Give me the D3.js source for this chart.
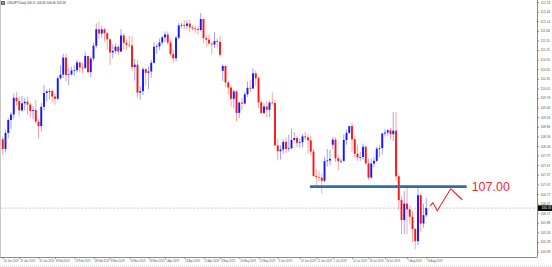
<!DOCTYPE html>
<html>
<head>
<meta charset="utf-8">
<script src="https://cdn.jsdelivr.net/npm/d3@7"></script>
<style>
body { margin: 0; background: #fff; }
svg { display: block; font-family: "Liberation Sans", Arial, sans-serif; }
.axis text { fill: #555; }
.axis path, .axis line { stroke: #8c8c8c; }
</style>
</head>
<body>
<svg width="552" height="267"></svg>
<script>
// USDJPY daily bars, 14 Jan 2019 - 16 Aug 2019
var dates = [
  "14 Jan 2019","15 Jan 2019","16 Jan 2019","17 Jan 2019","18 Jan 2019","21 Jan 2019","22 Jan 2019","23 Jan 2019","24 Jan 2019","25 Jan 2019","28 Jan 2019","29 Jan 2019","30 Jan 2019","31 Jan 2019",
  "1 Feb 2019","4 Feb 2019","5 Feb 2019","6 Feb 2019","7 Feb 2019","8 Feb 2019","11 Feb 2019","12 Feb 2019","13 Feb 2019","14 Feb 2019","15 Feb 2019","18 Feb 2019","19 Feb 2019","20 Feb 2019","21 Feb 2019","22 Feb 2019","25 Feb 2019","26 Feb 2019","27 Feb 2019","28 Feb 2019",
  "1 Mar 2019","4 Mar 2019","5 Mar 2019","6 Mar 2019","7 Mar 2019","8 Mar 2019","11 Mar 2019","12 Mar 2019","13 Mar 2019","14 Mar 2019","15 Mar 2019","18 Mar 2019","19 Mar 2019","20 Mar 2019","21 Mar 2019","22 Mar 2019","25 Mar 2019","26 Mar 2019","27 Mar 2019","28 Mar 2019","29 Mar 2019",
  "1 Apr 2019","2 Apr 2019","3 Apr 2019","4 Apr 2019","5 Apr 2019","8 Apr 2019","9 Apr 2019","10 Apr 2019","11 Apr 2019","12 Apr 2019","15 Apr 2019","16 Apr 2019","17 Apr 2019","18 Apr 2019","19 Apr 2019","22 Apr 2019","23 Apr 2019","24 Apr 2019","25 Apr 2019","26 Apr 2019","29 Apr 2019","30 Apr 2019",
  "1 May 2019","2 May 2019","3 May 2019","6 May 2019","7 May 2019","8 May 2019","9 May 2019","10 May 2019","13 May 2019","14 May 2019","15 May 2019","16 May 2019","17 May 2019","20 May 2019","21 May 2019","22 May 2019","23 May 2019","24 May 2019","27 May 2019","28 May 2019","29 May 2019","30 May 2019","31 May 2019",
  "3 Jun 2019","4 Jun 2019","5 Jun 2019","6 Jun 2019","7 Jun 2019","10 Jun 2019","11 Jun 2019","12 Jun 2019","13 Jun 2019","14 Jun 2019","17 Jun 2019","18 Jun 2019","19 Jun 2019","20 Jun 2019","21 Jun 2019","24 Jun 2019","25 Jun 2019","26 Jun 2019","27 Jun 2019","28 Jun 2019",
  "1 Jul 2019","2 Jul 2019","3 Jul 2019","4 Jul 2019","5 Jul 2019","8 Jul 2019","9 Jul 2019","10 Jul 2019","11 Jul 2019","12 Jul 2019","15 Jul 2019","16 Jul 2019","17 Jul 2019","18 Jul 2019","19 Jul 2019","22 Jul 2019","23 Jul 2019","24 Jul 2019","25 Jul 2019","26 Jul 2019","29 Jul 2019","30 Jul 2019","31 Jul 2019",
  "1 Aug 2019","2 Aug 2019","5 Aug 2019","6 Aug 2019","7 Aug 2019","8 Aug 2019","9 Aug 2019","12 Aug 2019","13 Aug 2019","14 Aug 2019","15 Aug 2019","16 Aug 2019"
];

var opens = [
  108.47,108.17,108.67,109.07,109.24,109.76,109.66,109.37,109.59,109.64,109.55,109.35,109.38,109.02,
  108.88,109.48,109.91,109.96,109.97,109.80,109.73,110.37,110.48,111.01,110.47,110.49,110.61,110.62,110.86,110.70,110.69,111.06,110.56,110.98,
  111.38,111.89,111.76,111.89,111.77,111.58,111.17,111.22,111.35,111.20,111.70,111.47,111.41,111.39,110.72,110.79,109.92,109.97,110.65,110.54,110.58,
  110.85,111.35,111.36,111.48,111.64,111.73,111.48,111.12,110.99,111.63,112.01,112.03,112.00,112.07,111.95,111.92,111.90,111.87,112.21,111.62,111.57,111.45,
  111.42,111.53,111.50,110.60,110.75,110.24,110.08,109.73,109.96,109.29,109.61,109.58,109.87,110.07,110.05,110.52,110.37,109.62,109.29,109.49,109.39,109.61,109.60,
  108.28,108.10,108.15,108.39,108.17,108.19,108.45,108.51,108.36,108.38,108.56,108.53,108.44,108.09,107.33,107.30,107.28,107.18,107.79,107.81,
  108.30,108.46,107.88,107.79,107.80,108.45,108.67,108.88,108.47,108.02,107.91,107.92,108.24,107.72,107.28,107.72,107.80,108.18,108.20,108.65,108.68,108.75,108.63,
  108.74,107.32,106.58,105.96,106.47,106.29,106.06,105.68,105.30,106.73,105.85,106.11
];

var highs = [
  108.55,108.77,109.13,109.31,109.89,109.93,109.79,109.82,109.76,109.79,109.60,109.51,109.70,109.10,
  109.59,110.16,110.01,110.05,110.04,109.89,110.44,110.77,111.13,111.13,110.70,110.73,110.79,110.94,110.89,110.86,111.20,111.07,111.04,111.47,
  112.08,112.13,112.00,111.93,111.80,111.60,111.42,111.45,111.42,111.90,111.77,111.57,111.69,111.68,110.97,110.94,110.12,110.72,110.68,110.73,110.94,
  111.49,111.44,111.60,111.70,111.83,111.82,111.56,111.26,111.70,112.08,112.09,112.17,112.17,112.17,112.01,112.00,112.00,112.40,112.22,111.71,111.72,111.51,
  111.80,111.60,111.69,110.80,110.77,110.28,110.13,110.02,110.00,109.64,109.75,109.95,110.27,110.32,110.68,110.61,110.43,109.68,109.60,109.66,109.67,109.93,109.69,
  108.48,108.28,108.47,108.53,108.62,108.80,108.69,108.57,108.48,108.63,108.70,108.62,108.58,108.17,107.55,107.49,107.40,107.92,108.17,108.14,
  108.54,108.53,107.99,107.87,108.62,108.77,108.88,108.99,108.56,108.30,108.09,108.34,108.27,107.88,107.88,107.93,108.24,108.29,108.68,108.79,108.79,108.82,109.32,
  109.32,107.40,106.70,106.86,106.96,106.42,106.24,105.73,106.97,106.79,106.47,106.65
];

var lows = [
  107.99,108.06,108.50,108.80,109.11,109.52,109.19,109.31,109.37,109.23,109.14,109.09,108.95,108.50,
  108.72,109.38,109.65,109.71,109.63,109.54,109.69,110.33,110.38,110.26,110.16,110.45,110.44,110.55,110.55,110.52,110.65,110.51,110.40,110.91,
  111.30,111.60,111.63,111.52,111.25,110.78,110.99,111.14,111.09,111.19,111.25,111.25,111.33,110.60,110.30,109.75,109.70,109.85,110.14,110.03,110.39,
  110.82,111.13,111.24,111.41,111.49,111.40,111.05,110.84,110.90,111.58,111.92,111.88,111.90,111.79,111.85,111.78,111.73,111.82,111.45,111.35,111.41,111.11,
  111.30,111.33,111.04,110.28,110.09,109.86,109.48,109.45,109.02,109.13,109.38,109.55,109.79,109.93,110.04,110.13,109.44,109.26,109.25,109.16,109.15,109.53,108.27,
  107.81,107.84,108.02,108.04,108.09,108.17,108.40,108.23,108.21,108.23,108.44,108.03,107.97,107.30,107.04,107.17,106.78,107.14,107.62,107.66,
  108.17,107.76,107.51,107.71,107.76,108.30,108.65,108.06,107.89,107.80,107.80,107.83,107.67,107.21,107.25,107.60,107.76,107.92,107.99,108.56,108.58,108.48,108.42,
  107.18,106.28,105.52,105.52,105.50,105.84,105.27,105.05,105.18,105.59,105.72,106.06
];

var closes = [
  108.17,108.67,109.07,109.24,109.76,109.66,109.37,109.59,109.64,109.55,109.35,109.38,109.02,108.88,
  109.48,109.91,109.96,109.97,109.80,109.73,110.37,110.48,111.01,110.47,110.49,110.61,110.62,110.86,110.70,110.69,111.06,110.56,110.98,111.38,
  111.89,111.76,111.89,111.77,111.58,111.17,111.22,111.35,111.20,111.70,111.47,111.41,111.39,110.72,110.79,109.92,109.97,110.65,110.54,110.58,110.85,
  111.35,111.36,111.48,111.64,111.73,111.48,111.12,110.99,111.63,112.01,112.03,112.00,112.07,111.95,111.92,111.90,111.87,112.21,111.62,111.57,111.45,111.42,
  111.53,111.50,111.10,110.75,110.24,110.08,109.73,109.96,109.29,109.61,109.58,109.87,110.07,110.05,110.52,110.37,109.62,109.29,109.49,109.39,109.61,109.60,108.28,
  108.10,108.15,108.39,108.17,108.19,108.45,108.51,108.36,108.38,108.56,108.53,108.44,108.09,107.33,107.30,107.28,107.18,107.79,107.81,107.86,
  108.46,107.88,107.79,107.80,108.45,108.67,108.88,108.47,108.02,107.91,107.92,108.24,107.72,107.28,107.72,107.80,108.18,108.20,108.65,108.68,108.75,108.63,108.74,
  107.32,106.58,105.96,106.47,106.29,106.06,105.68,105.30,106.73,105.85,106.11,106.33
];

// labels along the time axis
var dateTicks = [
  "14 Jan 2019","22 Jan 2019","31 Jan 2019","8 Feb 2019","19 Feb 2019","28 Feb 2019","8 Mar 2019","19 Mar 2019",
  "28 Mar 2019","5 Apr 2019","16 Apr 2019","25 Apr 2019","3 May 2019","14 May 2019","23 May 2019","3 Jun 2019",
  "13 Jun 2019","21 Jun 2019","1 Jul 2019","10 Jul 2019","18 Jul 2019","26 Jul 2019","7 Aug 2019","16 Aug 2019"
];

// price scale labels
var priceTicks = [112.74,112.44,112.14,111.84,111.55,111.25,110.95,110.65,110.35,110.05,109.76,109.46,109.16,
  108.86,108.56,108.26,107.97,107.67,107.37,107.07,106.77,106.47,106.17,105.88,105.58,105.28,104.98];

// drawn annotations: support level and projected path (bar index, price)
var levelPrice = 107.00;
var levelBars = [111.7, 168.7];
var projBars = [155.4, 156.4, 158.0, 162.9, 167.1];
var projPrices = [106.39, 106.50, 106.25, 106.93, 106.59];

var svg = d3.select("svg"),
    plotRight = 537,
    plotBottom = 257;

var x = d3.scaleLinear().domain([0, dates.length - 1]).range([2.75, 426.25]),
    y = d3.scaleLinear().domain([104.81, 112.74]).range([plotBottom, 2]);

var upColor = "#1414ff", downColor = "#ff1414";

// frame
svg.append("line")
    .attr("x1", 0.5).attr("x2", 0.5).attr("y1", 0).attr("y2", plotBottom)
    .attr("stroke", "#c8c8c8");
svg.append("line")
    .attr("x1", 0).attr("x2", 552).attr("y1", 266).attr("y2", 266)
    .attr("stroke", "#c8c8c8").attr("stroke-dasharray", "1,1");

// current price line
var last = closes.length - 1;
svg.append("line")
    .attr("x1", 1).attr("x2", plotRight)
    .attr("y1", y(closes[last])).attr("y2", y(closes[last]))
    .attr("stroke", "#b4bcc4").attr("stroke-dasharray", "2,1.5").attr("stroke-width", 0.8);

// candles
var bar = svg.append("g").selectAll(".bar")
    .data(d3.range(dates.length))
    .enter().append("g")
    .attr("class", "bar");

bar.append("line")
    .attr("x1", function(i) { return x(i); })
    .attr("x2", function(i) { return x(i); })
    .attr("y1", function(i) { return y(highs[i]); })
    .attr("y2", function(i) { return y(lows[i]); })
    .attr("stroke", function(i) { return closes[i] >= opens[i] ? upColor : downColor; })
    .attr("stroke-opacity", 0.4)
    .attr("stroke-width", 1);

bar.append("rect")
    .attr("x", function(i) { return x(i) - 0.95; })
    .attr("width", 1.9)
    .attr("y", function(i) { return y(Math.max(opens[i], closes[i])); })
    .attr("height", function(i) { return Math.max(0.7, Math.abs(y(opens[i]) - y(closes[i]))); })
    .attr("fill", function(i) { return closes[i] >= opens[i] ? upColor : downColor; });

// axes
var yAxis = svg.append("g")
    .attr("class", "axis")
    .attr("transform", "translate(" + plotRight + ",0)")
    .call(d3.axisRight(y).tickValues(priceTicks).tickSize(2).tickSizeOuter(0).tickFormat(d3.format(".2f")));
yAxis.selectAll("text").attr("x", 3.5).style("font-size", "3.2px");
yAxis.select(".domain").attr("d", "M0.5,0V" + plotBottom);

var xAxis = svg.append("g")
    .attr("class", "axis")
    .attr("transform", "translate(0," + plotBottom + ")")
    .call(d3.axisBottom(x)
        .tickValues(dateTicks.map(function(d) { return dates.indexOf(d); }))
        .tickSize(2).tickSizeOuter(0)
        .tickFormat(function(i) { return dates[i]; }));
xAxis.select(".domain").attr("d", "M0,0.5H" + (plotRight + 0.5));
xAxis.selectAll("text")
    .attr("text-anchor", "start")
    .attr("x", 0.5).attr("y", 3.5)
    .style("font-size", "2.7px");

// current price marker
var tag = svg.append("g").attr("transform", "translate(" + (plotRight + 1) + "," + y(closes[last]) + ")");
tag.append("rect").attr("x", 0).attr("y", -2.8).attr("width", 14).attr("height", 5.6).attr("fill", "#000");
tag.append("text").attr("x", 3.5).attr("dy", "0.35em").attr("fill", "#fff")
    .style("font-size", "3.2px").text(closes[last].toFixed(2));

// title
svg.append("path").attr("d", "M1.5,1.5h3v3h-3z").attr("fill", "#9aa6b2").attr("stroke", "#556");
svg.append("text")
    .attr("x", 7).attr("y", 4.3)
    .style("font-size", "3px").attr("fill", "#333")
    .text("USDJPY,Daily  " + [opens[last], highs[last], lows[last], closes[last]].map(function(v) { return v.toFixed(2); }).join(" "));

// support level
svg.append("line")
    .attr("x1", x(levelBars[0])).attr("x2", x(levelBars[1]))
    .attr("y1", y(levelPrice)).attr("y2", y(levelPrice))
    .attr("stroke", "#2f6cad").attr("stroke-width", 2.8);
svg.append("text")
    .attr("x", x(levelBars[1]) + 5).attr("y", y(levelPrice))
    .attr("dy", "0.36em")
    .attr("fill", "#ee2b2b")
    .style("font-size", "12.5px")
    .text(levelPrice.toFixed(2));

// projected path
var proj = d3.line()
    .x(function(d) { return x(d[0]); })
    .y(function(d) { return y(d[1]); });
svg.append("path")
    .attr("d", proj(d3.zip(projBars, projPrices)))
    .attr("fill", "none")
    .attr("stroke", "#ff2020")
    .attr("stroke-width", 1.1);
</script>
</body>
</html>
